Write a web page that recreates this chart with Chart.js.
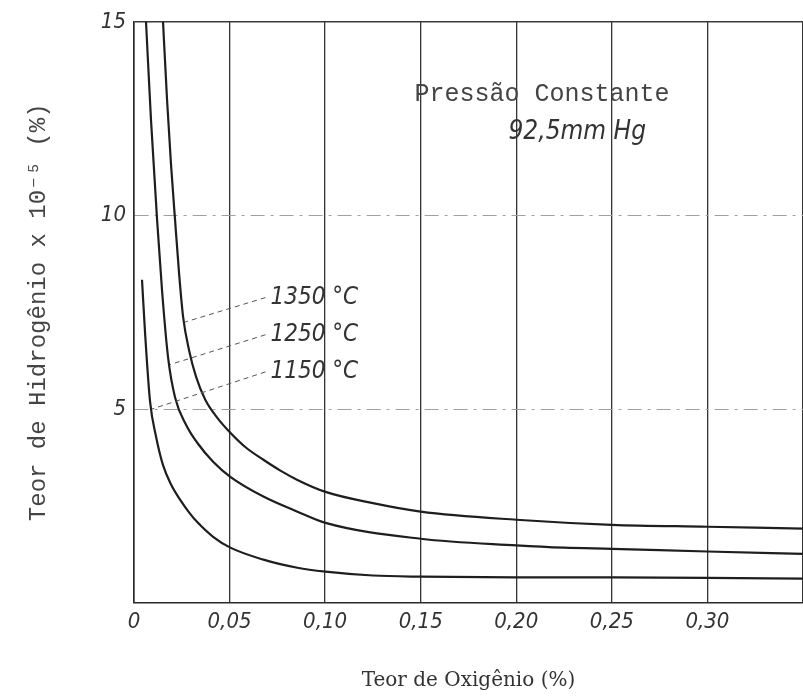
<!DOCTYPE html>
<html>
<head>
<meta charset="utf-8">
<script src="https://cdn.jsdelivr.net/npm/chart.js@4/dist/chart.umd.min.js"></script>
<style>
  body { margin: 0; background: #fff; overflow: hidden; }
  #wrap { width: 809px; height: 699px; position: relative; }
</style>
</head>
<body>
<div id="wrap"><canvas id="myChart"></canvas></div>
<script>
// oxygen content (%) vs hydrogen content (x10^-5 %)
const oxygen_1350 = [0.0152, 0.0173, 0.0194, 0.0215, 0.0236, 0.0257, 0.0289, 0.0325, 0.0373, 0.0435, 0.0504, 0.0587, 0.0677, 0.0766, 0.0855, 0.1002, 0.125, 0.150, 0.200, 0.250, 0.300, 0.350];
const hydrogen_1350 = [15, 12.99, 11.3, 9.88, 8.5, 7.38, 6.5, 5.83, 5.24, 4.78, 4.39, 4.00, 3.69, 3.41, 3.17, 2.86, 2.57, 2.35, 2.14, 2.01, 1.96, 1.91];

const oxygen_1250 = [0.0063, 0.0089, 0.0121, 0.0147, 0.0178, 0.0215, 0.0273, 0.0331, 0.0414, 0.0504, 0.0677, 0.0855, 0.1002, 0.150, 0.200, 0.225, 0.250, 0.300, 0.350];
const hydrogen_1250 = [15, 12.47, 9.88, 8.05, 6.35, 5.3, 4.59, 4.13, 3.64, 3.25, 2.74, 2.35, 2.06, 1.65, 1.48, 1.42, 1.39, 1.32, 1.26];

const oxygen_1150 = [0.0042, 0.0058, 0.0084, 0.0115, 0.0152, 0.0194, 0.0241, 0.029, 0.0331, 0.0414, 0.0504, 0.0677, 0.0855, 0.1002, 0.125, 0.150, 0.200, 0.250, 0.300, 0.350];
const hydrogen_1150 = [8.34, 6.97, 5.2, 4.3, 3.55, 3.05, 2.66, 2.32, 2.08, 1.70, 1.42, 1.11, 0.90, 0.80, 0.70, 0.67, 0.65, 0.65, 0.64, 0.62];

const series_labels = ["1350 °C", "1250 °C", "1150 °C"];
// where each label sits and where its leader line touches the curve (data units)
const label_pos = [[0.0714, 7.88], [0.0714, 6.92], [0.0714, 5.96]];
const leader_end = [[0.0268, 7.25], [0.0189, 6.15], [0.0094, 5.0]];

const x_ticks = [0, 0.05, 0.10, 0.15, 0.20, 0.25, 0.30];
const y_ticks = [5, 10, 15];

const tick_font = "'DejaVu Sans Condensed', 'Liberation Sans Narrow', 'DejaVu Sans', sans-serif";
const mono_font = "'Liberation Mono', 'DejaVu Sans Mono', monospace";

function toPoints(xs, ys) {
  return xs.map((x, i) => ({ x: x, y: ys[i] }));
}

function lineSet(label, xs, ys) {
  return {
    label: label,
    data: toPoints(xs, ys),
    borderColor: "#1e1e1e",
    borderWidth: 2.2,
    pointRadius: 0,
    fill: false,
    cubicInterpolationMode: "monotone",
  };
}

const annotations = {
  id: "annotations",
  afterDatasetsDraw(chart) {
    const ctx = chart.ctx;
    const xs = chart.scales.x, ys = chart.scales.y;
    ctx.save();
    // leader lines
    ctx.strokeStyle = "#555";
    ctx.lineWidth = 1;
    ctx.setLineDash([5, 4]);
    for (let i = 0; i < series_labels.length; i++) {
      ctx.beginPath();
      ctx.moveTo(xs.getPixelForValue(label_pos[i][0]) - 5, ys.getPixelForValue(label_pos[i][1]));
      ctx.lineTo(xs.getPixelForValue(leader_end[i][0]), ys.getPixelForValue(leader_end[i][1]));
      ctx.stroke();
    }
    ctx.setLineDash([]);
    // curve labels
    ctx.fillStyle = "#333";
    ctx.font = "italic 24px " + tick_font;
    ctx.textAlign = "left";
    ctx.textBaseline = "middle";
    for (let i = 0; i < series_labels.length; i++) {
      ctx.fillText(series_labels[i], xs.getPixelForValue(label_pos[i][0]), ys.getPixelForValue(label_pos[i][1]));
    }
    // pressure note
    ctx.textAlign = "center";
    ctx.font = "25px " + mono_font;
    ctx.fillStyle = "#444";
    ctx.fillText("Pressão Constante", xs.getPixelForValue(0.2135), ys.getPixelForValue(13.12));
    ctx.font = "italic 26px " + tick_font;
    ctx.fillStyle = "#333";
    ctx.fillText("92,5mm Hg", xs.getPixelForValue(0.2319), ys.getPixelForValue(12.16));
    ctx.restore();
  },
};

const chart_ctx = document.getElementById("myChart").getContext("2d");
const my_chart = new Chart(chart_ctx, {
  type: "line",
  data: {
    datasets: [
      lineSet(series_labels[0], oxygen_1350, hydrogen_1350),
      lineSet(series_labels[1], oxygen_1250, hydrogen_1250),
      lineSet(series_labels[2], oxygen_1150, hydrogen_1150),
    ],
  },
  options: {
    responsive: true,
    maintainAspectRatio: false,
    animation: false,
    layout: { padding: { left: 24, right: 1, top: 22, bottom: 6 } },
    plugins: {
      legend: { display: false },
      tooltip: { enabled: false },
    },
    scales: {
      x: {
        type: "linear",
        min: 0,
        max: 0.35,
        afterBuildTicks: (axis) => {
          axis.ticks = x_ticks.concat([0.35]).map((v) => ({ value: v }));
        },
        ticks: {
          padding: 6,
          maxRotation: 0,
          autoSkip: false,
          color: "#333",
          font: { family: tick_font, size: 22, style: "italic" },
          callback: (v) => {
            if (Math.abs(v - 0.35) < 1e-6) return "";
            if (v === 0) return "0";
            return v.toFixed(2).replace(".", ",");
          },
        },
        grid: { color: "#333", lineWidth: 1.3, drawTicks: false },
        border: { color: "#2a2a2a", width: 1.6 },
        title: {
          display: true,
          text: "Teor de Oxigênio (%)",
          color: "#333",
          font: { family: "'DejaVu Serif', 'Liberation Serif', serif", size: 20 },
          padding: { top: 28, bottom: 0 },
        },
      },
      y: {
        type: "linear",
        min: 0,
        max: 15,
        afterBuildTicks: (axis) => {
          axis.ticks = [0].concat(y_ticks).map((v) => ({ value: v }));
        },
        ticks: {
          padding: 8,
          color: "#333",
          font: { family: tick_font, size: 22, style: "italic" },
          callback: (v) => (v === 0 ? "" : String(v)),
        },
        grid: {
          drawTicks: false,
          color: (c) => (c.tick && c.tick.value === 15 ? "#3a3a3a" : "#a0a0a0"),
          lineWidth: (c) => (c.tick && c.tick.value === 15 ? 1.4 : 1),
        },
        border: {
          color: "#2a2a2a",
          width: 1.6,
          dash: (c) => (c.tick && (c.tick.value === 5 || c.tick.value === 10) ? [14, 6, 3, 6] : []),
        },
        title: {
          display: true,
          text: "Teor de Hidrogênio x 10⁻⁵ (%)",
          color: "#444",
          font: { family: mono_font, size: 24 },
          padding: { top: 0, bottom: 40 },
        },
      },
    },
  },
  plugins: [annotations],
});
</script>
</body>
</html>
